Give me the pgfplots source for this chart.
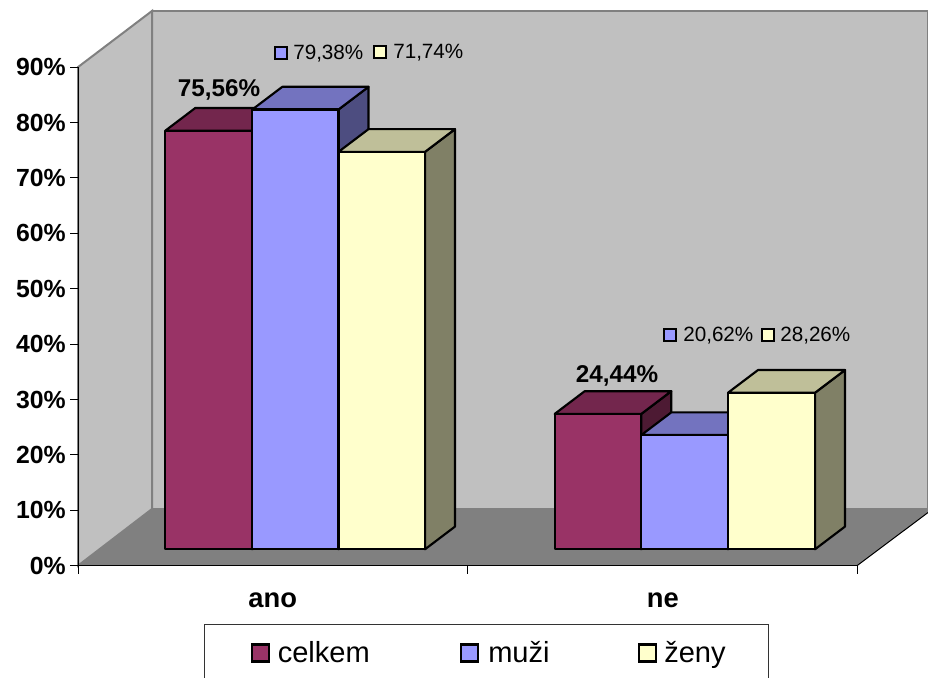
\documentclass[border=0pt]{standalone}
\usepackage{pgfplots}
\pgfplotsset{compat=1.18}
\usepackage{fontspec}
\setmainfont{Liberation Sans}
\definecolor{wall}{HTML}{C0C0C0}
\definecolor{floorc}{HTML}{808080}
\definecolor{celF}{HTML}{993366}\definecolor{celT}{HTML}{73264D}\definecolor{celS}{HTML}{4D1A33}
\definecolor{muzF}{HTML}{9999FF}\definecolor{muzT}{HTML}{7373BF}\definecolor{muzS}{HTML}{4D4D80}
\definecolor{zenF}{HTML}{FFFFCC}\definecolor{zenT}{HTML}{BFBF99}\definecolor{zenS}{HTML}{808066}
% 3D bar: left x, right x, value, colour prefix (base lifted 2.96, depth 30 in x and 4.1 in y)
\newcommand{\threedbar}[4]{%
  \pgfmathsetmacro{\ybot}{2.96}%
  \pgfmathsetmacro{\ytop}{#3+2.96}%
  \pgfmathsetmacro{\ybk}{#3+2.96+4.1}%
  \pgfmathsetmacro{\ybb}{2.96+4.1}%
  \pgfmathsetmacro{\xa}{#1+30}%
  \pgfmathsetmacro{\xb}{#2+30}%
  \addplot[fill=#4S,draw=black,line width=1.6pt,line join=round] coordinates {(#2,\ybot) (\xb,\ybb) (\xb,\ybk) (#2,\ytop)} -- cycle;
  \addplot[fill=#4T,draw=black,line width=1.6pt,line join=round] coordinates {(#1,\ytop) (\xa,\ybk) (\xb,\ybk) (#2,\ytop)} -- cycle;
  \addplot[fill=#4F,draw=black,line width=1.6pt,line join=round] coordinates {(#1,\ybot) (#2,\ybot) (#2,\ytop) (#1,\ytop)} -- cycle;
}
\newcommand{\swatch}[4]{\addplot[only marks,mark=square*,mark size=#4pt,mark options={fill=#3,draw=black,line width=1.6pt}] coordinates {(#1,#2)};}
\begin{document}
\begin{tikzpicture}
\path[use as bounding box] (0pt,0pt) rectangle (696pt,508.5pt);
\begin{axis}[
  at={(58.5pt,84.225pt)},anchor=south west,
  scale only axis,width=584.25pt,height=373.95pt,
  xmin=78,xmax=857,ymin=0,ymax=90,
  clip=false,axis on top,
  axis x line*=bottom,axis y line*=left,
  axis line style={black,line width=0.75pt},
  tick style={black,line width=0.75pt},
  tick align=outside,
  ytick={0,10,20,30,40,50,60,70,80,90},
  yticklabels={0\%,10\%,20\%,30\%,40\%,50\%,60\%,70\%,80\%,90\%},
  yticklabel style={font=\fontsize{18.6}{20}\selectfont\bfseries,inner xsep=0pt,xshift=-3pt},
  xtick={272.75,662.75},
  xticklabels={ano,ne},
  major x tick style={draw=none},
  minor xtick={78,467.5,857},
  major tick length=6pt,minor tick length=6pt,
  xticklabel style={font=\fontsize{20.5}{22}\selectfont\bfseries,anchor=base,yshift=-25.5pt},
]
% walls and floor
\addplot[fill=wall,draw=floorc,line width=1.5pt] coordinates {(152,10.23) (152,100.13) (928,100.13) (928,10.23)} -- cycle;
\addplot[fill=wall,draw=floorc,line width=1.5pt] coordinates {(78,0) (78,90) (152,100.13) (152,10.23)} -- cycle;
\addplot[fill=floorc,draw=none] coordinates {(78,0) (857,0) (928,9.6) (928,10.23) (152,10.23)} -- cycle;
\addplot[black,line width=0.75pt] coordinates {(857,0) (928,9.6)};
% ano
\threedbar{165.3}{252.3}{75.56}{cel}
\threedbar{252.3}{338.5}{79.38}{muz}
\threedbar{338.5}{425}{71.74}{zen}
% ne
\threedbar{554.7}{641.3}{24.44}{cel}
\threedbar{641.3}{728}{20.62}{muz}
\threedbar{728}{815}{28.26}{zen}
% small data label keys
\swatch{281}{92.55}{muzF}{4.5}
\swatch{380}{92.73}{zenF}{4.5}
\swatch{670}{41.64}{muzF}{4.5}
\swatch{768}{41.64}{zenF}{4.5}
% legend keys
\swatch{260.5}{-15.76}{celF}{6.4}
\swatch{469.5}{-15.76}{muzF}{6.4}
\swatch{647.5}{-15.76}{zenF}{6.4}
\end{axis}
\begin{scope}[x=0.75pt,y=0.75pt]
\tikzset{lab/.style={anchor=base west,inner sep=0pt,font=\fontsize{15.5}{17}\selectfont},
         blab/.style={anchor=base,inner sep=0pt,font=\fontsize{18.2}{19}\selectfont\bfseries},
         leg/.style={anchor=base west,inner sep=0pt,font=\fontsize{21.8}{23}\selectfont}}
\node[blab] at (219,581.3) {75,56\%};
\node[blab] at (617,295.3) {24,44\%};
\node[lab] at (293,618) {79,38\%};
\node[lab] at (393,619) {71,74\%};
\node[lab] at (683,336.3) {20,62\%};
\node[lab] at (780,336.3) {28,26\%};
\draw[black!80,line width=0.75pt] (204,0) -- (204,53.7) -- (768.7,53.7) -- (768.7,0);
\node[leg] at (277.5,15.3) {celkem};
\node[leg] at (488,15.3) {muži};
\node[leg] at (664,15.3) {ženy};
\end{scope}
\end{tikzpicture}
\end{document}
